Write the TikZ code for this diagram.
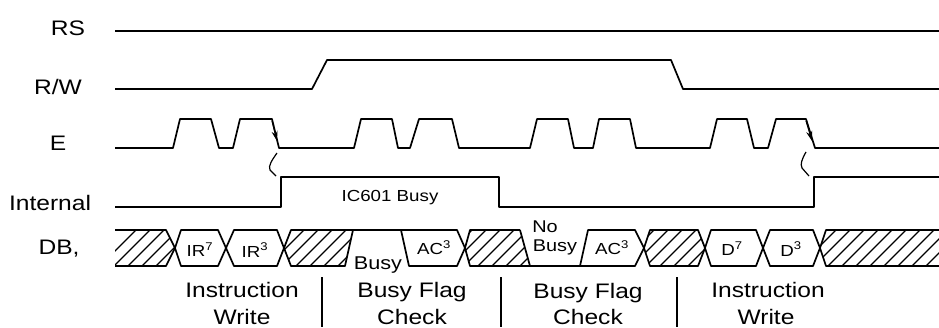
\documentclass[tikz,border=0pt]{standalone}
\usepackage{fontspec}
\usetikzlibrary{arrows.meta}
\setmainfont[FakeStretch=1.17]{Liberation Sans}
\begin{document}
\begin{tikzpicture}[x=1pt,y=-1pt,line join=round,>={Stealth[length=10pt,width=6pt]},
	sig/.style={line width=1.7pt},
	hatchline/.style={line width=1.1pt},
	lbl/.style={inner sep=0pt,font=\fontsize{21}{24}\selectfont},
	small/.style={inner sep=0pt,font=\fontsize{16}{18}\selectfont}]
	\useasboundingbox (0,0) rectangle (939,327);
	% hatched cells of the bus
	\foreach \p in {
		{(115,230)--(166,230)--(175,248)--(166,266)--(115,266)--cycle},
		{(291,230)--(353,230)--(345,266)--(291,266)--(284,248)--cycle},
		{(470,230)--(520,230)--(530,266)--(470,266)--(465,248)--cycle},
		{(650,230)--(698,230)--(705,248)--(698,266)--(650,266)--(644,248)--cycle},
		{(826,230)--(939,230)--(939,266)--(826,266)--(820,248)--cycle}}{
		\begin{scope}
			\clip \p;
			\foreach \x in {100,114,...,990}\draw[hatchline] (\x,266)--(\x+36,230);
		\end{scope}
	}
	\draw[sig] (115,230)--(166,230)--(175,248)--(166,266)--(115,266);
	\draw[sig] (353,230)--(291,230)--(284,248)--(291,266)--(345,266)--(353,230);
	\draw[sig] (520,230)--(470,230)--(465,248)--(470,266)--(530,266)--(520,230);
	\draw[sig] (650,230)--(698,230)--(705,248)--(698,266)--(650,266)--(644,248)--cycle;
	\draw[sig] (939,230)--(826,230)--(820,248)--(826,266)--(939,266);
	% signals
	\draw[sig] (115,31)--(939,31);
	\draw[sig] (115,89)--(312,89)--(327,60)--(671,60)--(683,89)--(939,89);
	\draw[sig] (115,148)--(173,148)--(180,119)--(211,119)--(219,148)--(233,148)--(240,119)--(272,119)--(279,148)
		--(354,148)--(361,119)--(392,119)--(398,148)--(410,148)--(419,119)--(452,119)--(459,148)
		--(530,148)--(537,119)--(568,119)--(574,148)--(593,148)--(599,119)--(630,119)--(636,148)
		--(710,148)--(717,119)--(747,119)--(754,148)--(768,148)--(776,119)--(806,119)--(815,148)--(939,148);
	\draw[sig] (115,207)--(281,207)--(281,177)--(499,177)--(499,207)--(814,207)--(814,177)--(939,177);
	% timing marks
	\draw[->,line width=1pt] (272,121)--(277,141);
	\draw[->,line width=1pt] (806,121)--(812,141);
	\draw[line width=1.2pt] (277,153) .. controls (272,160) and (268,166) .. (270,170) -- (276,176);
	\draw[line width=1.2pt] (806,152) .. controls (802,159) and (800,164) .. (802,168) -- (809,176);
	% bus cells
	\draw[sig] (175,248)--(181,230)--(218,230)--(226,248)--(218,266)--(181,266)--cycle;
	\draw[sig] (226,248)--(234,230)--(277,230)--(284,248)--(277,266)--(234,266)--cycle;
	\draw[sig] (353,230)--(401,230)--(409,266)--(457,266)--(465,248)--(457,230)--(401,230);
	\draw[sig] (530,266)--(580,266)--(588,230)--(635,230)--(644,248)--(635,266)--(580,266);
	\draw[sig] (705,248)--(711,230)--(756,230)--(763,248)--(756,266)--(711,266)--cycle;
	\draw[sig] (763,248)--(770,230)--(813,230)--(820,248)--(813,266)--(770,266)--cycle;
	% phase bars
	\draw[sig] (322,277)--(322,327);
	\draw[sig] (501,277)--(501,327);
	\draw[sig] (677,277)--(677,327);
	% signal names
	\node[lbl] (rs) at (68,28) {RS};
	\node[lbl] (rw) at (58,87) {R/W};
	\node[lbl] (e) at (58,143) {E};
	\node[lbl] (internal) at (50,203) {Internal};
	\node[lbl] (db) at (59,249) {DB,};
	% bus texts
	\node[small] (busytxt) at (390,198) {IC601 Busy};
	\node[small] (ir7) at (200,250) {IR\textsuperscript{7}};
	\node[small] (ir3) at (255,250) {IR\textsuperscript{3}};
	\node[lbl,anchor=base,font=\fontsize{18.5}{20}\selectfont] (busy) at (378,269) {Busy};
	\node[small] (ac3a) at (434,248) {AC\textsuperscript{3}};
	\node[small,anchor=base,font=\fontsize{17}{20}\selectfont] (no) at (545,232) {No};
	\node[small,anchor=base,font=\fontsize{17}{20}\selectfont] (nobusy) at (555,251) {Busy};
	\node[small] (ac3b) at (612,248) {AC\textsuperscript{3}};
	\node[small] (d7) at (732,249) {D\textsuperscript{7}};
	\node[small] (d3) at (791,249) {D\textsuperscript{3}};
	% phases
	\foreach \n/\x/\y/\s in {wa/242/297/Instruction,wb/242/324/Write,fa/412/297/Busy Flag,fb/412/324/Check,
		ga/588/298/Busy Flag,gb/588/324/Check,ha/768/297/Instruction,hb/766/324/Write}
		\node[lbl,anchor=base] (\n) at (\x,\y) {\s};
\end{tikzpicture}
\end{document}
